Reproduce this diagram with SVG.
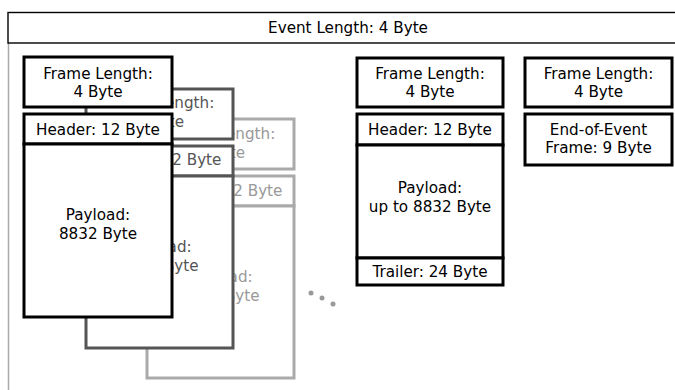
<svg xmlns="http://www.w3.org/2000/svg" width="675" height="390" viewBox="0 0 675 390">
<style>
text{font-family:"DejaVu Sans",sans-serif;font-size:15.2px;text-anchor:middle}
.k rect{fill:#fff;stroke:#000;stroke-width:3}
.k text{fill:#000}
.d rect{fill:#fff;stroke:#555;stroke-width:3}
.d text{fill:#555}
.l rect{fill:#fff;stroke:#aaa;stroke-width:3}
.l text{fill:#999}
</style>
<rect width="675" height="390" fill="#fff"/>
<g id="event">
<line x1="8.5" y1="43" x2="8.5" y2="390" stroke="#aaa" stroke-width="1.5"/>
<rect x="8" y="12.5" width="670" height="30.5" fill="none" stroke="#000" stroke-width="1.4"/>
<text x="348" y="33">Event Length: 4 Byte</text>
</g>
<g id="frame3" class="l">
<rect x="147" y="119" width="147" height="50"/>
<text x="220.5" y="139">Frame Length:</text>
<text x="220.5" y="158">4 Byte</text>
<rect x="147" y="176" width="147" height="30"/>
<text x="220.5" y="196">Header: 12 Byte</text>
<rect x="147" y="206" width="147" height="172"/>
<text x="220.5" y="282">Payload:</text>
<text x="220.5" y="301">8832 Byte</text>
</g>
<g id="frame2" class="d">
<rect x="86" y="89" width="147" height="50"/>
<text x="159.5" y="108">Frame Length:</text>
<text x="159.5" y="127">4 Byte</text>
<rect x="86" y="146" width="147" height="30"/>
<text x="159.5" y="165">Header: 12 Byte</text>
<rect x="86" y="176" width="147" height="172"/>
<text x="159.5" y="252">Payload:</text>
<text x="159.5" y="271">8832 Byte</text>
</g>
<g id="frame1" class="k">
<rect x="24" y="57" width="148" height="50"/>
<text x="98" y="79">Frame Length:</text>
<text x="98" y="97">4 Byte</text>
<rect x="24" y="114" width="148" height="30"/>
<text x="98" y="135">Header: 12 Byte</text>
<rect x="24" y="144" width="148" height="173"/>
<text x="98" y="220">Payload:</text>
<text x="98" y="239">8832 Byte</text>
</g>
<g id="dots" fill="#999">
<circle cx="311" cy="293" r="2.5"/>
<circle cx="322" cy="298" r="2.5"/>
<circle cx="333" cy="304" r="2.5"/>
</g>
<g id="frameN" class="k">
<rect x="357" y="58" width="146" height="49"/>
<text x="430" y="79">Frame Length:</text>
<text x="430" y="97">4 Byte</text>
<rect x="357" y="114" width="146" height="31"/>
<text x="430" y="135">Header: 12 Byte</text>
<rect x="357" y="145" width="146" height="113"/>
<text x="430" y="193">Payload:</text>
<text x="430" y="212">up to 8832 Byte</text>
<rect x="357" y="258" width="146" height="27"/>
<text x="430" y="277">Trailer: 24 Byte</text>
</g>
<g id="eoe" class="k">
<rect x="525" y="58" width="147" height="49"/>
<text x="598.5" y="79">Frame Length:</text>
<text x="598.5" y="97">4 Byte</text>
<rect x="525" y="114" width="147" height="51"/>
<text x="598.5" y="135">End-of-Event</text>
<text x="598.5" y="153">Frame: 9 Byte</text>
</g>
<g id="connectors"/>
</svg>
